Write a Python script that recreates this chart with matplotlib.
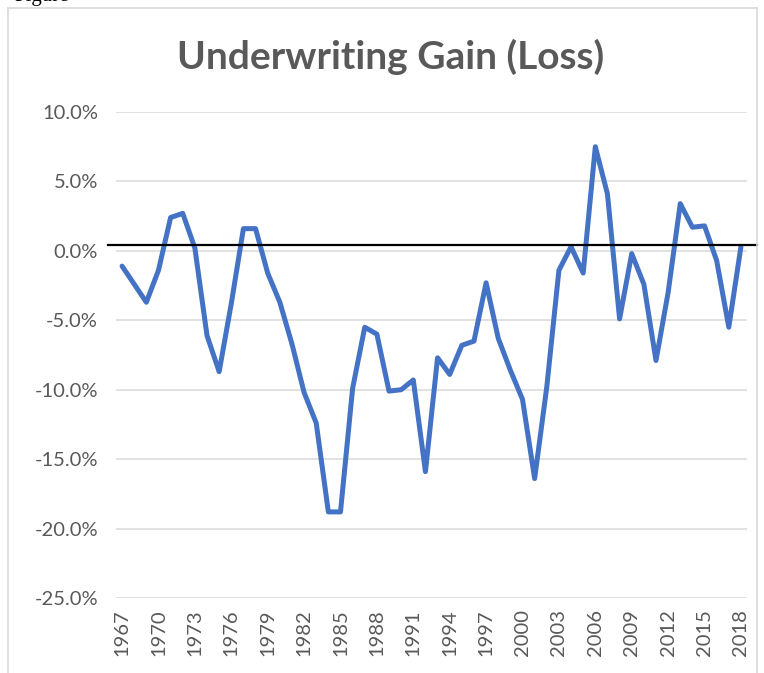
import matplotlib
matplotlib.use("Agg")
import matplotlib.pyplot as plt
from matplotlib.lines import Line2D
from matplotlib.ticker import FuncFormatter, MultipleLocator

years = list(range(1967, 2019))
gain = [-1.1, -2.4, -3.7, -1.4, 2.4, 2.7, 0.2, -6.1, -8.7, -3.8,
        1.6, 1.6, -1.6, -3.7, -6.7, -10.2, -12.4, -18.8, -18.8, -9.9,
        -5.5, -6.0, -10.1, -10.0, -9.3, -15.9, -7.7, -8.9, -6.8, -6.5,
        -2.3, -6.3, -8.6, -10.7, -16.4, -9.8, -1.4, 0.3, -1.6, 7.5,
        4.1, -4.9, -0.2, -2.4, -7.9, -3.0, 3.4, 1.7, 1.8, -0.7,
        -5.5, 0.3]
ref_level = 0.4
title = "Underwriting Gain (Loss)"
label_years = years[::3]

W, H = 764, 673
fig = plt.figure(figsize=(W / 100, H / 100), dpi=100)
ax = fig.add_axes([116 / W, 1 - 598 / H, (747 - 116) / W, (598 - 112) / H])

grey = "#595959"
font = "Lato"

ax.plot(years, gain, color="#4472C4", lw=3.6, solid_joinstyle="round",
        solid_capstyle="round", zorder=3)

# black reference line drawn a little wider than the plot area
ax.plot([-0.013, 1.016], [ref_level, ref_level], color="black", lw=1.6,
        transform=ax.get_yaxis_transform(), clip_on=False, zorder=4)

ax.set_xlim(years[0] - 0.5, years[-1] + 0.5)
ax.set_ylim(-25, 10)
ax.yaxis.set_major_locator(MultipleLocator(5))
ax.yaxis.set_major_formatter(FuncFormatter(lambda v, p: f"{v:.1f}%"))
ax.set_xticks(label_years)
ax.set_xticklabels([str(y) for y in label_years], rotation=90)
ax.grid(axis="y", color="#D9D9D9", lw=1.1, zorder=0)
ax.tick_params(length=0, labelsize=14.5, labelcolor=grey)
ax.tick_params(axis="y", pad=13)
ax.tick_params(axis="x", pad=8)
for lab in ax.get_xticklabels() + ax.get_yticklabels():
    lab.set_family(font)
for s in ax.spines.values():
    s.set_visible(False)

fig.text(391 / W, 1 - 57 / H, title, ha="center", va="center",
         fontsize=28, fontweight="bold", color=grey, family=font)

# chart border
border = "#D9D9D9"
fig.add_artist(Line2D([8 / W, 8 / W], [0, 1 - 8 / H], color=border, lw=1.2))
fig.add_artist(Line2D([8 / W, 757 / W], [1 - 8 / H, 1 - 8 / H], color=border, lw=1.2))
fig.add_artist(Line2D([757 / W, 757 / W], [0, 1 - 8 / H], color=border, lw=1.2))

# caption of the page above, cut off at the top edge as in the source
fig.text(14 / W, 1 - 1 / H, "Figure", ha="left", va="baseline",
         fontsize=15, family="Liberation Serif", color="black")

fig.savefig("out.png", dpi=100)
